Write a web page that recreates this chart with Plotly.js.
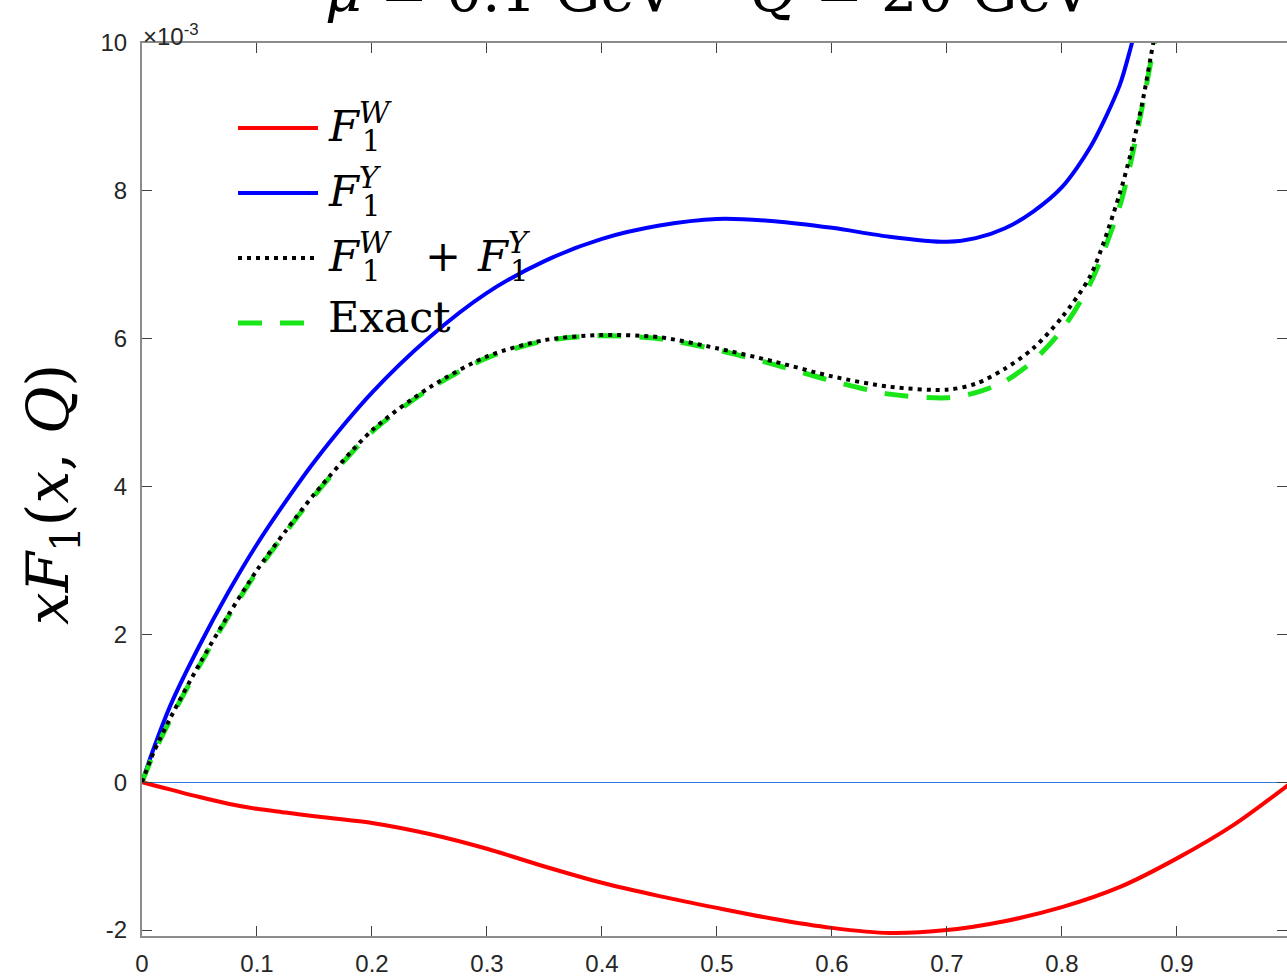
<!DOCTYPE html>
<html>
<head>
<meta charset="utf-8">
<script src="https://cdn.plot.ly/plotly-3.0.1.min.js"></script>
<style>
  html, body { margin: 0; padding: 0; background: #ffffff; }
  #chart { width: 1287px; height: 977px; }
</style>
</head>
<body>
<div id="chart"></div>
<script>
// x F_1(x, Q) contributions, values in units of 1e-3

// F_1^W
const xW   = [0, 0.01, 0.025, 0.05, 0.075, 0.1, 0.125, 0.15, 0.2, 0.25, 0.3, 0.35, 0.4, 0.45, 0.5, 0.55, 0.6, 0.65, 0.7, 0.75, 0.8, 0.85, 0.9, 0.95, 1.0];
const f1W  = [0, -0.04, -0.10, -0.20, -0.29, -0.36, -0.41, -0.46, -0.55, -0.70, -0.90, -1.14, -1.36, -1.54, -1.70, -1.85, -1.97, -2.04, -2.00, -1.88, -1.69, -1.42, -1.03, -0.57, 0.0];

// F_1^Y
const xY   = [0, 0.01, 0.025, 0.05, 0.075, 0.1, 0.125, 0.15, 0.2, 0.25, 0.3, 0.35, 0.4, 0.45, 0.5, 0.55, 0.6, 0.65, 0.7, 0.725, 0.75, 0.775, 0.8, 0.825, 0.85, 0.86, 0.87];
const f1Y  = [0, 0.45, 1.05, 1.85, 2.57, 3.22, 3.80, 4.34, 5.27, 6.02, 6.62, 7.05, 7.35, 7.53, 7.62, 7.59, 7.50, 7.38, 7.31, 7.36, 7.49, 7.72, 8.05, 8.60, 9.42, 9.95, 10.55];

// F_1^W + F_1^Y
const xSum  = [0, 0.01, 0.025, 0.05, 0.075, 0.1, 0.125, 0.15, 0.2, 0.25, 0.3, 0.35, 0.4, 0.45, 0.5, 0.55, 0.6, 0.65, 0.7, 0.725, 0.75, 0.775, 0.8, 0.825, 0.85, 0.86, 0.87, 0.88, 0.89];
const f1Sum = [0, 0.40, 0.88, 1.60, 2.26, 2.87, 3.40, 3.90, 4.76, 5.34, 5.76, 5.98, 6.05, 6.02, 5.87, 5.69, 5.49, 5.35, 5.31, 5.39, 5.59, 5.87, 6.29, 6.86, 7.95, 8.52, 9.20, 10.05, 10.8];

// Exact
const xExact  = [0, 0.01, 0.025, 0.05, 0.075, 0.1, 0.125, 0.15, 0.2, 0.25, 0.3, 0.35, 0.4, 0.45, 0.5, 0.55, 0.6, 0.65, 0.7, 0.725, 0.75, 0.775, 0.8, 0.825, 0.85, 0.86, 0.87, 0.88, 0.89];
const f1Exact = [0, 0.38, 0.86, 1.58, 2.24, 2.85, 3.38, 3.88, 4.74, 5.32, 5.74, 5.97, 6.04, 6.00, 5.85, 5.65, 5.43, 5.25, 5.20, 5.27, 5.42, 5.70, 6.12, 6.76, 7.78, 8.40, 9.15, 9.97, 10.8];

// Axis ticks
const xTicks    = [0, 0.1, 0.2, 0.3, 0.4, 0.5, 0.6, 0.7, 0.8, 0.9];
const xTickText = ['0', '0.1', '0.2', '0.3', '0.4', '0.5', '0.6', '0.7', '0.8', '0.9'];
const yTicks    = [-2, 0, 2, 4, 6, 8, 10];
const yTickText = ['-2', '0', '2', '4', '6', '8', '10'];

// Text
const titleText  = '<i>μ</i> = 0.1 GeV\u2003 <i>Q</i> = 20 GeV';
const yLabelText = '<i>xF</i><sub>1</sub>(<i>x</i>, <i>Q</i>)';
const exponentText = '×10<sup>-3</sup>';

// ---- page geometry (pixels) ----
const W = 1287, H = 977;
const M = { l: 142, r: 0, t: 43, b: 41 };
const PW = W - M.l - M.r, PH = H - M.t - M.b;
const px = X => (X - M.l) / PW;
const py = Y => (H - M.b - Y) / PH;

const SERIF = 'DejaVu Serif, serif';
const SANS = 'Liberation Sans, Arial, Helvetica, sans-serif';

const COL = { W: '#ff0000', Y: '#0000ff', S: '#000000', E: '#19e619' };
const STY = {
  W: { color: COL.W, width: 4 },
  Y: { color: COL.Y, width: 4 },
  S: { color: COL.S, width: 4, dash: '4px,5px' },
  E: { color: COL.E, width: 5, dash: '24px,18px' }
};

const traces = [
  { x: xW, y: f1W, type: 'scatter', mode: 'lines', name: 'F1W',
    line: Object.assign({ shape: 'spline', smoothing: 0.8 }, STY.W), hoverinfo: 'skip' },
  { x: xY, y: f1Y, type: 'scatter', mode: 'lines', name: 'F1Y',
    line: Object.assign({ shape: 'spline', smoothing: 0.8 }, STY.Y), hoverinfo: 'skip' },
  { x: xExact, y: f1Exact, type: 'scatter', mode: 'lines', name: 'Exact',
    line: Object.assign({ shape: 'spline', smoothing: 0.8 }, STY.E), hoverinfo: 'skip' },
  { x: xSum, y: f1Sum, type: 'scatter', mode: 'lines', name: 'F1W+F1Y',
    line: Object.assign({ shape: 'spline', smoothing: 0.8 }, STY.S), hoverinfo: 'skip' }
];

// text placed by its baseline (pixel coords)
function label(text, X, baseline, size, xanchor, family) {
  return {
    xref: 'paper', yref: 'paper',
    x: px(X), y: py(baseline + 0.236 * size + 1),
    xanchor: xanchor || 'left', yanchor: 'bottom',
    showarrow: false, text: text,
    font: { family: family || SERIF, size: size, color: '#000000' }
  };
}

// legend key lines
function keyLine(Y, sty) {
  return {
    type: 'line', xref: 'paper', yref: 'paper',
    x0: px(238), x1: px(318), y0: py(Y), y1: py(Y),
    line: { color: sty.color, width: sty.width, dash: sty.dash || 'solid' }
  };
}

const LF = 43, LS = 29;
const annotations = [
  // title
  label(titleText, 709, 12, 57, 'center'),
  // exponent
  {
    xref: 'paper', yref: 'paper', x: px(141), y: py(52), xanchor: 'left', yanchor: 'bottom',
    showarrow: false, text: exponentText, font: { family: SANS, size: 24, color: '#262626' }
  },
  // y label
  {
    xref: 'paper', yref: 'paper', x: px(52), y: py(495), xanchor: 'center', yanchor: 'middle',
    textangle: -90, showarrow: false, text: yLabelText,
    font: { family: SERIF, size: 58, color: '#000000' }
  },
  // legend entries
  label('<i>F</i><sup><i>W</i></sup>', 326, 142, LF),
  label('1', 360, 152, LS),
  label('<i>F</i><sup><i>Y</i></sup>', 326, 207, LF),
  label('1', 360, 217, LS),
  label('<i>F</i><sup><i>W</i></sup>', 326, 272, LF),
  label('1', 360, 282, LS),
  label('+', 443, 272, LF, 'center'),
  label('<i>F</i><sup><i>Y</i></sup>', 475, 272, LF),
  label('1', 508, 282, LS),
  label('Exact', 326, 333, LF)
];

const shapes = [
  keyLine(128, STY.W),
  keyLine(193, STY.Y),
  keyLine(258, STY.S),
  keyLine(323, STY.E)
];

const axisCommon = {
  showgrid: false,
  showline: true, linecolor: '#8c8c8c', linewidth: 2,
  mirror: 'ticks',
  ticks: 'inside', ticklen: 10, tickwidth: 1, tickcolor: '#404040',
  tickfont: { family: SANS, size: 24, color: '#262626' },
  tickmode: 'array'
};

const layout = {
  width: W, height: H,
  margin: M,
  paper_bgcolor: '#ffffff', plot_bgcolor: '#ffffff',
  showlegend: false,
  xaxis: Object.assign({}, axisCommon, {
    range: [0, 0.9957], tickvals: xTicks, ticktext: xTickText,
    zeroline: false, ticklabelstandoff: 5
  }),
  yaxis: Object.assign({}, axisCommon, {
    range: [-2.08, 10], tickvals: yTicks, ticktext: yTickText,
    zeroline: true, zerolinecolor: '#2f78e6', zerolinewidth: 1,
    ticklabelstandoff: 8
  }),
  annotations: annotations,
  shapes: shapes
};

Plotly.newPlot('chart', traces, layout, { displayModeBar: false, staticPlot: true });
</script>
</body>
</html>
